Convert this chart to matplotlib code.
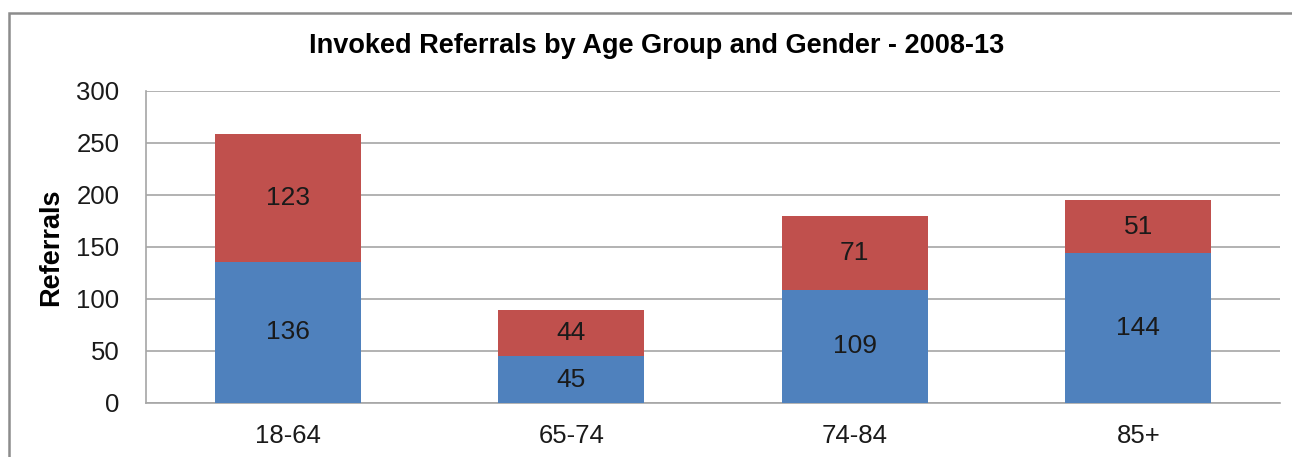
import matplotlib
matplotlib.use("Agg")
import matplotlib.pyplot as plt
from matplotlib.patches import Rectangle

categories = ["18-64", "65-74", "74-84", "85+"]
lower_vals = [136, 45, 109, 144]
upper_vals = [123, 44, 71, 51]
yticks = [0, 50, 100, 150, 200, 250, 300]

plt.rcParams['font.family'] = ['Liberation Sans', 'DejaVu Sans']

W, H = 1292, 457
fig = plt.figure(figsize=(W / 100, H / 100), dpi=100)
ax = fig.add_axes([146 / W, 1 - 403 / H, (1280 - 146) / W, (403 - 91) / H])

# outer chart border
fig.patches.append(Rectangle((9 / W, -0.1), 1.2, 1 - 13 / H + 0.1, transform=fig.transFigure,
                             fill=False, edgecolor='#8c8c8c', linewidth=1.8, zorder=0))

x = range(len(categories))
blue = '#4F81BD'
red = '#C0504D'
ax.bar(x, lower_vals, width=0.515, color=blue, zorder=3)
ax.bar(x, upper_vals, width=0.515, bottom=lower_vals, color=red, zorder=3)

for i in x:
    ax.text(i, lower_vals[i] / 2, str(lower_vals[i]), ha='center', va='center',
            fontsize=19, color='#1a1a1a', zorder=4)
    ax.text(i, lower_vals[i] + upper_vals[i] / 2, str(upper_vals[i]), ha='center', va='center',
            fontsize=19, color='#1a1a1a', zorder=4)

ax.set_xlim(-0.5, len(categories) - 0.5)
ax.set_ylim(0, 300)
ax.set_yticks(yticks)
ax.set_xticks(list(x))
ax.set_xticklabels(categories)
ax.tick_params(axis='both', length=0, labelsize=18.5, colors='#1a1a1a')
ax.tick_params(axis='y', pad=19)
ax.tick_params(axis='x', pad=15)
ax.yaxis.grid(True, color='#a6a6a6', linewidth=1.2, zorder=0)
ax.set_axisbelow(True)
for s in ['top', 'right']:
    ax.spines[s].set_visible(False)
ax.spines['left'].set_color('#a6a6a6')
ax.spines['bottom'].set_color('#a6a6a6')
ax.spines['left'].set_linewidth(1.2)
ax.spines['bottom'].set_linewidth(1.2)

ax.set_ylabel("Referrals", fontsize=19.5, fontweight='bold')
ax.yaxis.set_label_coords(-0.072, 0.5)
fig.text(657 / W, 1 - 46 / H, "Invoked Referrals by Age Group and Gender - 2008-13",
         ha='center', va='center', fontsize=19.5, fontweight='bold')

fig.savefig("out.png", dpi=100)
